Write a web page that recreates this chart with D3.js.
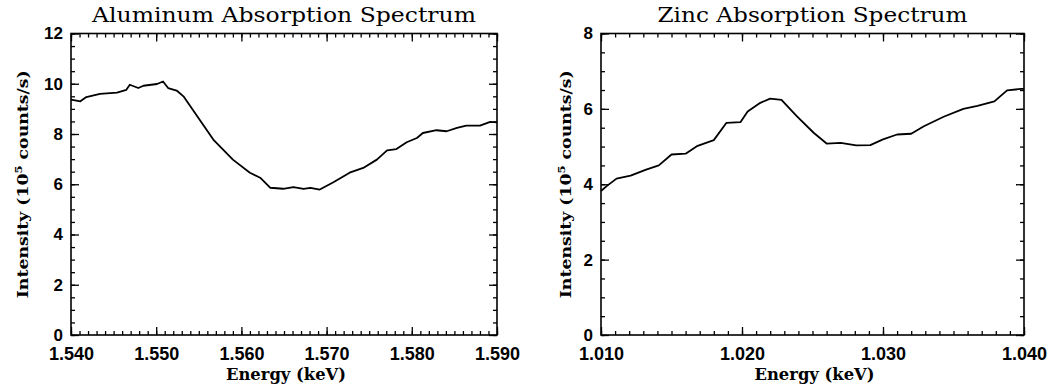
<!DOCTYPE html>
<html>
<head>
<meta charset="utf-8">
<script src="https://cdn.jsdelivr.net/npm/d3@7"></script>
<style>
  body { margin: 0; background: #fff; }
  svg { display: block; }
</style>
</head>
<body>
<div id="chart"></div>
<script>
// Aluminum spectrum
const alEnergy = [1.5400, 1.5411, 1.5418, 1.5434, 1.5454, 1.5465, 1.5469, 1.5479, 1.5485, 1.5501,
  1.5508, 1.5514, 1.5524, 1.5532, 1.5551, 1.5567, 1.5590, 1.5610, 1.5622, 1.5634,
  1.5649, 1.5661, 1.5673, 1.5681, 1.5692, 1.5708, 1.5727, 1.5743, 1.5759, 1.5771,
  1.5782, 1.5794, 1.5806, 1.5813, 1.5829, 1.5841, 1.5853, 1.5864, 1.5880, 1.5892, 1.5900];
const alIntensity = [9.37, 9.30, 9.47, 9.60, 9.65, 9.76, 9.96, 9.83, 9.92, 9.99,
  10.09, 9.83, 9.73, 9.50, 8.57, 7.78, 6.98, 6.46, 6.26, 5.86,
  5.82, 5.89, 5.82, 5.86, 5.79, 6.08, 6.46, 6.65, 6.98, 7.35,
  7.40, 7.67, 7.84, 8.04, 8.15, 8.11, 8.24, 8.33, 8.33, 8.48, 8.46];

// Zinc spectrum
const znEnergy = [1.0100, 1.0104, 1.0111, 1.0121, 1.0132, 1.0141, 1.0150, 1.0160, 1.0168, 1.0180,
  1.0189, 1.0199, 1.0204, 1.0213, 1.0220, 1.0228, 1.0239, 1.0251, 1.0260, 1.0270,
  1.0281, 1.0291, 1.0300, 1.0310, 1.0320, 1.0329, 1.0343, 1.0357, 1.0367, 1.0379,
  1.0388, 1.0398, 1.0400];
const znIntensity = [3.82, 3.95, 4.15, 4.23, 4.39, 4.50, 4.79, 4.81, 5.01, 5.17,
  5.63, 5.65, 5.93, 6.16, 6.27, 6.24, 5.80, 5.36, 5.08, 5.10,
  5.03, 5.04, 5.19, 5.32, 5.34, 5.54, 5.79, 6.00, 6.08, 6.20,
  6.49, 6.53, 6.53];

const alXTicks = [1.540, 1.550, 1.560, 1.570, 1.580, 1.590];
const alYTicks = [0, 2, 4, 6, 8, 10, 12];
const znXTicks = [1.010, 1.020, 1.030, 1.040];
const znYTicks = [0, 2, 4, 6, 8];

const W = 1064, H = 390;
const svg = d3.select("#chart").append("svg")
  .attr("width", W).attr("height", H);

const serif = "'DejaVu Serif', 'Liberation Serif', serif";
const sans = "'Liberation Sans', Arial, sans-serif";

function panel(o) {
  const x = d3.scaleLinear().domain(o.xDomain).range([o.left, o.right]);
  const y = d3.scaleLinear().domain(o.yDomain).range([o.bottom, o.top]);
  const g = svg.append("g");

  // minor ticks
  const xMinor = d3.range(o.xDomain[0], o.xDomain[1] + 1e-9, 0.001);
  const yMinor = d3.range(o.yDomain[0], o.yDomain[1] + 1e-9, 0.5);
  const minor = (axis, tr, vals) => g.append("g").attr("transform", tr)
    .call(axis.tickValues(vals).tickSize(-4).tickFormat(""))
    .call(s => s.select(".domain").remove());
  minor(d3.axisBottom(x), `translate(0,${o.bottom})`, xMinor);
  minor(d3.axisTop(x), `translate(0,${o.top})`, xMinor);
  minor(d3.axisLeft(y), `translate(${o.left},0)`, yMinor);
  minor(d3.axisRight(y), `translate(${o.right},0)`, yMinor);

  // major ticks with labels
  const major = (axis, tr, vals, fmt, pad, size) => g.append("g").attr("transform", tr)
    .call(axis.tickValues(vals).tickSize(-8).tickPadding(pad).tickFormat(fmt))
    .call(s => s.select(".domain").remove())
    .call(s => s.selectAll("text").attr("fill", "#000")
      .style("font-family", sans).style("font-weight", "bold").style("font-size", size + "px"));
  major(d3.axisBottom(x), `translate(0,${o.bottom})`, o.xTicks, d3.format(".3f"), 12, 18);
  major(d3.axisTop(x), `translate(0,${o.top})`, o.xTicks, "", 0, 18);
  major(d3.axisLeft(y), `translate(${o.left},0)`, o.yTicks, d3.format("d"), 8, 17);
  major(d3.axisRight(y), `translate(${o.right},0)`, o.yTicks, "", 0, 17);
  g.selectAll(".tick line").attr("stroke", "#000").attr("stroke-width", 1.3);

  // frame
  g.append("rect")
    .attr("x", o.left).attr("y", o.top)
    .attr("width", o.right - o.left).attr("height", o.bottom - o.top)
    .attr("fill", "none").attr("stroke", "#000").attr("stroke-width", 1.6);

  // spectrum
  const pts = o.xs.map((d, i) => [d, o.ys[i]]);
  g.append("path")
    .datum(pts)
    .attr("fill", "none").attr("stroke", "#000").attr("stroke-width", 1.8)
    .attr("stroke-linejoin", "round")
    .attr("d", d3.line().x(d => x(d[0])).y(d => y(d[1])));

  // title
  g.append("text")
    .attr("x", (o.left + o.right) / 2).attr("y", 22)
    .attr("text-anchor", "middle")
    .attr("textLength", o.titleLen).attr("lengthAdjust", "spacingAndGlyphs")
    .style("font-family", serif).style("font-size", "20px")
    .text(o.title);

  // x label
  g.append("text")
    .attr("x", (o.left + o.right) / 2 + 2).attr("y", 380)
    .attr("text-anchor", "middle")
    .attr("textLength", 120).attr("lengthAdjust", "spacingAndGlyphs")
    .style("font-family", serif).style("font-weight", "bold").style("font-size", "16px")
    .text("Energy (keV)");

  // y label
  const yl = g.append("text")
    .attr("transform", `translate(${o.yLabelX},${(o.top + o.bottom) / 2}) rotate(-90)`)
    .attr("text-anchor", "middle")
    .attr("textLength", 228).attr("lengthAdjust", "spacingAndGlyphs")
    .style("font-family", serif).style("font-weight", "bold").style("font-size", "15px");
  yl.append("tspan").text("Intensity (10");
  yl.append("tspan").attr("dy", -6).style("font-size", "10px").text("5");
  yl.append("tspan").attr("dy", 6).text(" counts/s)");
}

panel({
  left: 71, right: 497, top: 33.5, bottom: 335,
  xDomain: [1.540, 1.590], yDomain: [0, 12],
  xTicks: alXTicks, yTicks: alYTicks,
  xs: alEnergy, ys: alIntensity,
  title: "Aluminum Absorption Spectrum", titleLen: 384, yLabelX: 28
});

panel({
  left: 601, right: 1024, top: 33.5, bottom: 335,
  xDomain: [1.010, 1.040], yDomain: [0, 8],
  xTicks: znXTicks, yTicks: znYTicks,
  xs: znEnergy, ys: znIntensity,
  title: "Zinc Absorption Spectrum", titleLen: 310, yLabelX: 571
});
</script>
</body>
</html>
